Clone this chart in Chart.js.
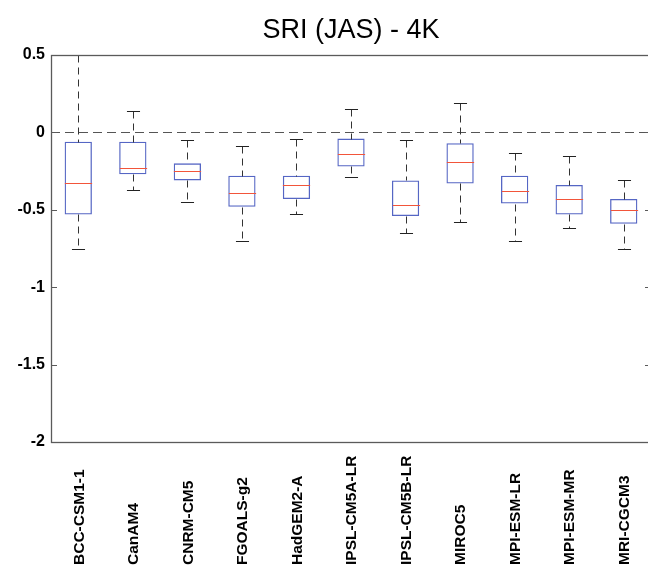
<!DOCTYPE html>
<html>
<head>
<meta charset="utf-8">
<script src="https://cdn.jsdelivr.net/npm/chart.js@4"></script>
<style>
  html, body { margin: 0; padding: 0; background: #fff; overflow: hidden; }
  #wrap { width: 652px; height: 576px; }
</style>
</head>
<body>
<div id="wrap"><canvas id="chart" width="652" height="576"></canvas></div>
<script>
const models = [
  "BCC-CSM1-1", "CanAM4", "CNRM-CM5", "FGOALS-g2", "HadGEM2-A",
  "IPSL-CM5A-LR", "IPSL-CM5B-LR", "MIROC5", "MPI-ESM-LR", "MPI-ESM-MR", "MRI-CGCM3"
];
const whiskerHigh = [0.50, 0.14, -0.05, -0.09, -0.04, 0.15, -0.05, 0.19, -0.13, -0.15, -0.31];
const q3 =          [-0.06, -0.06, -0.20, -0.28, -0.28, -0.04, -0.31, -0.07, -0.28, -0.34, -0.43];
const median =      [-0.33, -0.23, -0.25, -0.39, -0.34, -0.14, -0.47, -0.19, -0.38, -0.43, -0.50];
const q1 =          [-0.53, -0.27, -0.31, -0.48, -0.43, -0.22, -0.54, -0.33, -0.46, -0.53, -0.59];
const whiskerLow =  [-0.75, -0.37, -0.45, -0.70, -0.53, -0.29, -0.65, -0.58, -0.70, -0.62, -0.75];
const yTicks = [0.5, 0, -0.5, -1, -1.5, -2];

const FONT = "'Liberation Sans', Arial, Helvetica, sans-serif";
const AXIS = "#5a5a5a";

const boxPlugin = {
  id: "boxExtras",
  beforeDatasetsDraw(chart) {
    const { ctx, chartArea: a, scales: { y } } = chart;
    const y0 = y.getPixelForValue(0);
    ctx.save();
    ctx.strokeStyle = "#555";
    ctx.lineWidth = 1;
    ctx.setLineDash([9, 5]);
    ctx.beginPath();
    ctx.moveTo(a.left, Math.round(y0) + 0.5);
    ctx.lineTo(a.right, Math.round(y0) + 0.5);
    ctx.stroke();
    ctx.restore();
  },
  afterDatasetsDraw(chart) {
    const { ctx, scales: { x, y } } = chart;
    const step = x.getPixelForValue(1) - x.getPixelForValue(0);
    const capHalf = step * 0.12;
    const boxHalf = step * 0.25;
    const px = v => Math.round(y.getPixelForValue(v)) + 0.5;
    ctx.save();
    models.forEach((m, i) => {
      const cx = Math.round(x.getPixelForValue(i)) + 0.5;
      // whiskers
      ctx.strokeStyle = "#333";
      ctx.lineWidth = 1;
      ctx.setLineDash([7, 5]);
      ctx.beginPath();
      ctx.moveTo(cx, px(whiskerHigh[i]));
      ctx.lineTo(cx, px(q3[i]));
      ctx.moveTo(cx, px(q1[i]));
      ctx.lineTo(cx, px(whiskerLow[i]));
      ctx.stroke();
      // caps
      ctx.setLineDash([]);
      ctx.strokeStyle = "#222";
      ctx.beginPath();
      ctx.moveTo(cx - capHalf, px(whiskerHigh[i]));
      ctx.lineTo(cx + capHalf, px(whiskerHigh[i]));
      ctx.moveTo(cx - capHalf, px(whiskerLow[i]));
      ctx.lineTo(cx + capHalf, px(whiskerLow[i]));
      ctx.stroke();
      // median
      ctx.strokeStyle = "#f2553a";
      ctx.beginPath();
      ctx.moveTo(cx - boxHalf, px(median[i]));
      ctx.lineTo(cx + boxHalf, px(median[i]));
      ctx.stroke();
    });
    ctx.restore();
  },
  afterDraw(chart) {
    const { ctx, chartArea: a, scales: { x, y } } = chart;
    ctx.save();
    // frame
    ctx.strokeStyle = AXIS;
    ctx.lineWidth = 1.3;
    ctx.strokeRect(Math.round(a.left) + 0.5, Math.round(a.top) + 0.5,
      Math.round(a.right - a.left), Math.round(a.bottom - a.top));
    // inward y ticks on both sides
    ctx.lineWidth = 1;
    ctx.beginPath();
    yTicks.forEach(t => {
      const yy = Math.round(y.getPixelForValue(t)) + 0.5;
      ctx.moveTo(a.left, yy);
      ctx.lineTo(a.left + 6, yy);
      ctx.moveTo(a.right, yy);
      ctx.lineTo(a.right - 6, yy);
    });
    ctx.stroke();
    // rotated category labels, anchored at the bottom
    ctx.fillStyle = "#000";
    ctx.font = "bold 15.5px " + FONT;
    ctx.textAlign = "left";
    ctx.textBaseline = "middle";
    models.forEach((m, i) => {
      ctx.save();
      ctx.translate(x.getPixelForValue(i) + 1, 565);
      ctx.rotate(-Math.PI / 2);
      ctx.fillText(m, 0, 0);
      ctx.restore();
    });
    ctx.restore();
  }
};

new Chart(document.getElementById("chart"), {
  type: "bar",
  data: {
    labels: models,
    datasets: [{
      data: models.map((_, i) => [q1[i], q3[i]]),
      backgroundColor: "rgba(0,0,0,0)",
      borderColor: "#5566c4",
      borderWidth: 1.3,
      borderSkipped: false,
      barPercentage: 0.5,
      categoryPercentage: 1.0
    }]
  },
  options: {
    responsive: false,
    animation: false,
    devicePixelRatio: 1,
    layout: { padding: { left: 0, right: 1, top: 0, bottom: 0 } },
    plugins: {
      legend: { display: false },
      tooltip: { enabled: false },
      title: {
        display: true,
        text: "SRI (JAS) - 4K",
        fullSize: false,
        color: "#000",
        font: { family: FONT, size: 27, weight: "normal", lineHeight: 1.2 },
        padding: { top: 14, bottom: 8.6 }
      }
    },
    scales: {
      x: {
        type: "category",
        offset: true,
        grid: { display: false, drawTicks: false },
        border: { display: false },
        ticks: { display: false },
        afterFit: s => { s.height = 134; }
      },
      y: {
        min: -2,
        max: 0.5,
        grid: { display: false, drawTicks: false },
        border: { display: false },
        afterBuildTicks: s => { s.ticks = yTicks.map(v => ({ value: v })); },
        ticks: {
          color: "#000",
          padding: 6,
          font: { family: FONT, size: 16, weight: "bold" },
          callback: v => String(v)
        },
        afterFit: s => { s.width = 51; }
      }
    }
  },
  plugins: [boxPlugin]
});
</script>
</body>
</html>
